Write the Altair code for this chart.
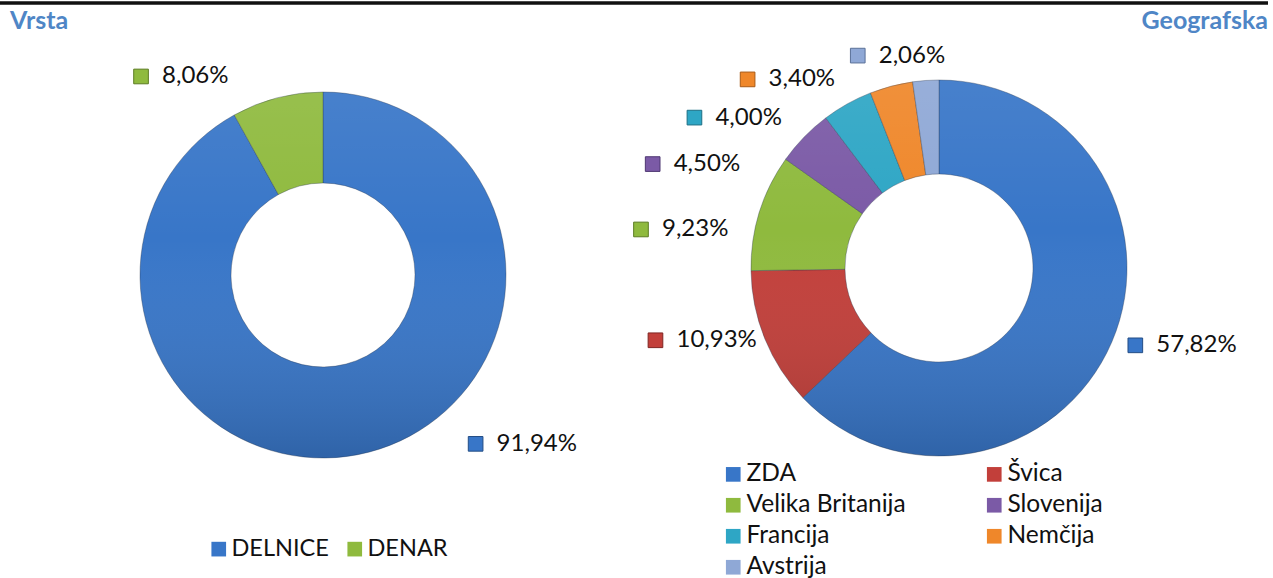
import altair as alt
import pandas as pd

# ---------------- data ----------------
titles = ["Vrsta", "Geografska"]

vrsta_cats = ["DELNICE", "DENAR"]
vrsta_vals = [91.94, 8.06]

geo_cats = ["ZDA", "Švica", "Velika Britanija", "Slovenija", "Francija", "Nemčija", "Avstrija"]
geo_vals = [57.82, 10.93, 9.23, 4.50, 4.00, 3.40, 2.06]

# ---------------- styles ----------------
FONT = "Lato"
LABEL_SIZE = 24
TITLE_COLOR = "#4F86C6"
vrsta_colors = ["#3876C8", "#8FBA3E"]
vrsta_edges = ["#234d85", "#5d7d24"]
geo_colors = ["#3876C8", "#C23F3A", "#8FBA3E", "#7B5AA6", "#2EA6C5", "#EF872A", "#8FA8D6"]
geo_edges = ["#234d85", "#7f2522", "#5d7d24", "#4f3872", "#1c6f85", "#a85a16", "#5a7098"]

# ---------------- layout ----------------
L_CX, L_CY, L_R, L_R2 = 323, 275, 183, 92
R_CX, R_CY, R_R, R_R2 = 939, 268, 188, 94
# label placement (angular nudge from slice middle in degrees, distance from centre)
vrsta_label_shift = [-27.6, -28.0]
vrsta_label_radius = [227.6, 269.3]
geo_label_shift = [-1.7, 7.9, -9.9, -24.2, -29.2, -30.7, -16.9]
geo_label_radius = [211, 292.6, 300.5, 304.6, 287.1, 268.7, 227.4]

vrsta_df = pd.DataFrame({
    "cat": vrsta_cats, "value": vrsta_vals, "ord": list(range(len(vrsta_cats))),
    "col": vrsta_colors, "edge": vrsta_edges,
    "shift": vrsta_label_shift, "rad": vrsta_label_radius,
})
geo_df = pd.DataFrame({
    "cat": geo_cats, "value": geo_vals, "ord": list(range(len(geo_cats))),
    "col": geo_colors, "edge": geo_edges,
    "shift": geo_label_shift, "rad": geo_label_radius,
})
one = pd.DataFrame({"k": [0]})


def donut(df, cats, colors, cx, cy, r, r2, legend):
    return alt.Chart(df).mark_arc(
        outerRadius=r, innerRadius=r2, stroke="#1f2f45", strokeOpacity=0.35, strokeWidth=1
    ).encode(
        x=alt.value(cx), y=alt.value(cy),
        theta=alt.Theta("value:Q", stack=True),
        color=alt.Color("cat:N", scale=alt.Scale(domain=cats, range=colors), legend=legend),
        order=alt.Order("ord:Q"),
    )


def shade(cx, cy, r, r2):
    grad = alt.Gradient(
        gradient="linear", x1=0, y1=0, x2=0, y2=1,
        stops=[alt.GradientStop(color="rgba(255,255,255,0.08)", offset=0),
               alt.GradientStop(color="rgba(255,255,255,0.0)", offset=0.4),
               alt.GradientStop(color="rgba(0,0,0,0.16)", offset=1)],
    )
    return alt.Chart(one).mark_arc(
        theta=0, theta2=6.2832, outerRadius=r, innerRadius=r2, fill=grad
    ).encode(x=alt.value(cx), y=alt.value(cy))


def labels(df, cx, cy):
    base = alt.Chart(df).transform_joinaggregate(
        total="sum(value)"
    ).transform_window(
        cum="sum(value)", sort=[alt.SortField("ord")], frame=[None, 0]
    ).transform_calculate(
        ang="((datum.cum - datum.value/2)/datum.total*360 + datum.shift)*PI/180",
        txt="replace(format(datum.value, '.2f'), '.', ',') + '%'",
    ).transform_calculate(
        px=f"{cx} + datum.rad*sin(datum.ang)",
        py=f"{cy} - datum.rad*cos(datum.ang)",
    )
    marker = base.mark_square(size=215, opacity=1, strokeWidth=1).encode(
        x=alt.X("px:Q", scale=None), y=alt.Y("py:Q", scale=None),
        fill=alt.Fill("col:N", scale=None), stroke=alt.Stroke("edge:N", scale=None),
    )
    text = base.mark_text(
        align="left", baseline="middle", dx=21, font=FONT, fontSize=LABEL_SIZE, color="#111111"
    ).encode(
        x=alt.X("px:Q", scale=None), y=alt.Y("py:Q", scale=None), text="txt:N"
    )
    return marker + text


legend_common = dict(
    title=None, orient="none", symbolType="square", symbolSize=215,
    symbolStrokeWidth=0, labelFont=FONT, labelColor="#111111",
    labelOffset=1, labelLimit=400, padding=0,
)
vrsta_legend = alt.Legend(
    legendX=207, legendY=537, direction="horizontal", columnPadding=14,
    labelFontSize=23.5, **legend_common
)
geo_legend = alt.Legend(
    legendX=721, legendY=462, direction="horizontal", columns=2, gridAlign="all",
    columnPadding=76, rowPadding=6, labelFontSize=24.5, **legend_common
)

top_rule = alt.Chart(one).mark_rule(color="#111111", strokeWidth=3.5).encode(
    x=alt.value(0), x2=alt.value(1268), y=alt.value(3)
)
title_left = alt.Chart(pd.DataFrame({"t": [titles[0]]})).mark_text(
    align="left", baseline="alphabetic", font=FONT, fontSize=25, fontWeight="bold", color=TITLE_COLOR
).encode(x=alt.value(10), y=alt.value(29), text="t:N")
title_right = alt.Chart(pd.DataFrame({"t": [titles[1]]})).mark_text(
    align="right", baseline="alphabetic", font=FONT, fontSize=25, fontWeight="bold", color=TITLE_COLOR
).encode(x=alt.value(1268), y=alt.value(29), text="t:N")

chart = alt.layer(
    top_rule, title_left, title_right,
    donut(vrsta_df, vrsta_cats, vrsta_colors, L_CX, L_CY, L_R, L_R2, vrsta_legend),
    shade(L_CX, L_CY, L_R, L_R2),
    donut(geo_df, geo_cats, geo_colors, R_CX, R_CY, R_R, R_R2, geo_legend),
    shade(R_CX, R_CY, R_R, R_R2),
    labels(vrsta_df, L_CX, L_CY),
    labels(geo_df, R_CX, R_CY),
).resolve_scale(
    theta="independent", color="independent"
).properties(
    width=1273, height=578, autosize=alt.AutoSizeParams(type="none"), padding=0,
    background="white",
).configure_view(stroke=None)

chart.save("out.html", embed_options={"renderer": "svg", "actions": False})
